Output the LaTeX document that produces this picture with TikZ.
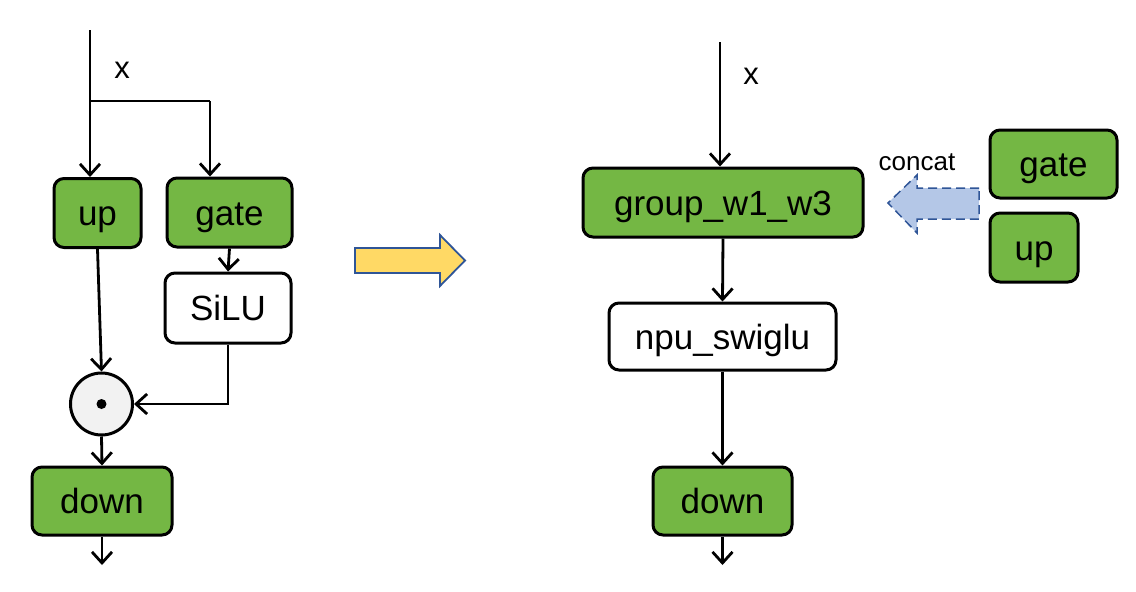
\documentclass[tikz,border=0pt]{standalone}
\usepackage{fontspec}
\setmainfont{Liberation Sans}
\usetikzlibrary{arrows.meta}
\definecolor{boxgreen}{HTML}{74B744}
\definecolor{arrowyellow}{HTML}{FFD965}
\definecolor{arrowblue}{HTML}{2F5597}
\definecolor{lightblue}{HTML}{B4C7E7}
\definecolor{circgray}{HTML}{F2F2F2}
\tikzset{
  box/.style={draw=black, line width=3pt, rounded corners=10pt, inner sep=0pt,
    font=\fontsize{35}{40}\selectfont, text=black, text height=25pt, text depth=0pt},
  gbox/.style={box, fill=boxgreen},
  wbox/.style={box, fill=white},
  conn/.style={line width=2.8pt, -{Straight Barb[length=11pt,width=20pt,line width=2.8pt]}},
  plain/.style={line width=2.8pt},
  lbl/.style={font=\fontsize{31}{35}\selectfont, inner sep=0pt}
}
\begin{document}
\begin{tikzpicture}[x=1pt,y=-1pt]
\useasboundingbox (0,0) rectangle (1136,592);
% left diagram
\node[gbox, minimum width=87pt, minimum height=69pt] (up) at (97.5,213) {up};
\node[gbox, minimum width=125pt, minimum height=69pt] (gate) at (229.5,212.5) {gate};
\node[wbox, minimum width=126pt, minimum height=70pt] (silu) at (228,308) {SiLU};
\node[draw=black, line width=3pt, fill=circgray, circle, minimum size=62pt, inner sep=0pt] (circ) at (101.5,404) {};
\fill[black] (circ.center) circle (5pt);
\node[gbox, minimum width=140pt, minimum height=68pt] (downL) at (102,501) {down};
\coordinate (topL) at (90,30);
\coordinate (brL) at (90,101);
\coordinate (brR) at (210,101);
\coordinate (outL) at (102,565);
\node[lbl] (xL) at (122,70) {x};
\draw[plain] (topL) -- (brL);
\draw[conn] (brL) -- (brL |- up.north);
\draw[plain] (brL) -- (brR);
\draw[conn] (brR) -- (brR |- gate.north);
\draw[conn] (gate.south) -- (silu.north);
\draw[conn] (up.south) -- (circ.north);
\draw[conn] (silu.south) |- (circ.east);
\draw[conn] (circ.south) -- (downL.north);
\draw[conn] (downL.south) -- (outL);
% yellow arrow
\draw[fill=arrowyellow, draw=arrowblue, line width=1.8pt]
  (355,248) -- (440,248) -- (440,235) -- (465,260.5) -- (440,286) -- (440,273) -- (355,273) -- cycle;
% right diagram
\node[gbox, minimum width=280pt, minimum height=69pt] (group) at (723,202.5) {group\_w1\_w3};
\node[wbox, minimum width=227pt, minimum height=67pt] (npu) at (722.5,336.5) {npu\_swiglu};
\node[gbox, minimum width=139pt, minimum height=68pt] (downR) at (722.5,501) {down};
\node[gbox, minimum width=127pt, minimum height=68pt] (gateR) at (1053.5,164) {gate};
\node[gbox, minimum width=88pt, minimum height=69pt] (upR) at (1034,247.5) {up};
\coordinate (topR) at (720,42);
\coordinate (outR) at (722.5,565);
\node[lbl] (xR) at (751,76) {x};
\draw[conn] (topR) -- (topR |- group.north);
\draw[conn] (group.south) -- (npu.north);
\draw[conn] (npu.south) -- (downR.north);
\draw[conn] (downR.south) -- (outR);
% concat arrow
\draw[fill=lightblue, draw=arrowblue, line width=1.5pt, dash pattern=on 9pt off 5pt]
  (979,188) -- (917,188) -- (917,175) -- (888,203) -- (917,233) -- (917,219) -- (979,219) -- cycle;
\node[font=\fontsize{26}{30}\selectfont, inner sep=0pt] (concat) at (917,162) {concat};
\end{tikzpicture}
\end{document}
